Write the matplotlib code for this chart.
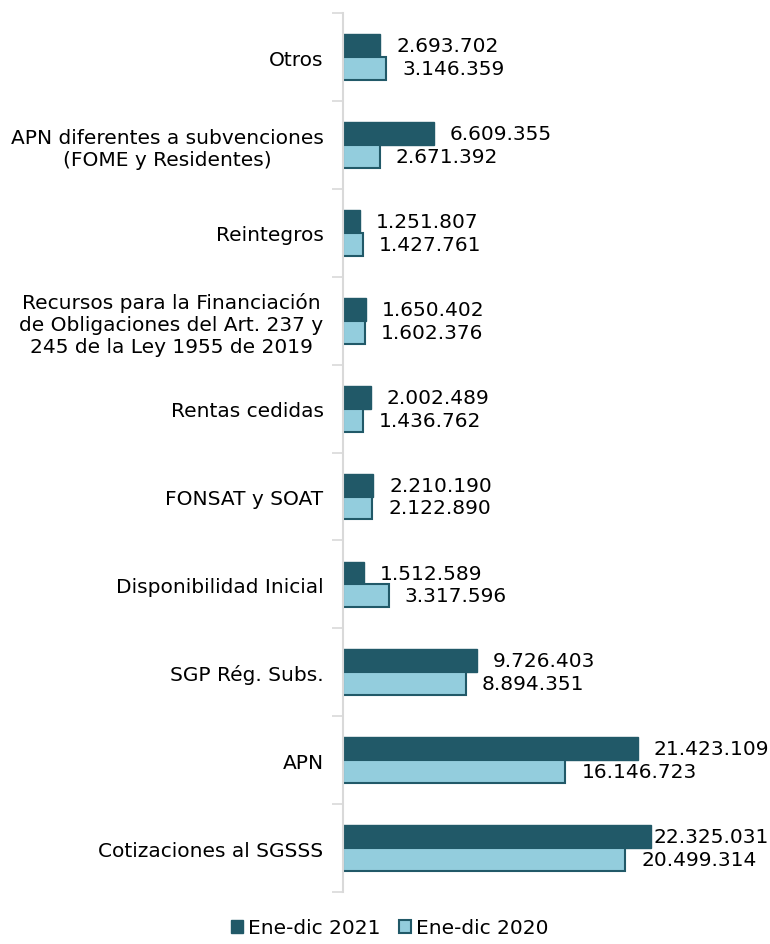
import numpy as np
import matplotlib
matplotlib.use("Agg")
import matplotlib.pyplot as plt
from matplotlib.ticker import FixedLocator

categories = [
    "Cotizaciones al SGSSS",
    "APN",
    "SGP Rég. Subs.",
    "Disponibilidad Inicial",
    "FONSAT y SOAT",
    "Rentas cedidas",
    "Recursos para la Financiación\nde Obligaciones del Art. 237 y\n245 de la Ley 1955 de 2019",
    "Reintegros",
    "APN diferentes a subvenciones\n(FOME y Residentes)",
    "Otros",
]
ene_dic_2021 = [22325031, 21423109, 9726403, 1512589, 2210190,
                2002489, 1650402, 1251807, 6609355, 2693702]
ene_dic_2020 = [20499314, 16146723, 8894351, 3317596, 2122890,
                1436762, 1602376, 1427761, 2671392, 3146359]

dark = "#215968"
light = "#93CDDD"
fs = 14.5

def fmt(v):
    return f"{v:,}".replace(",", ".")

fig = plt.figure(figsize=(7.7, 9.45), dpi=100)
ax = fig.add_axes([0.4455, 0.055, 0.5545, 0.93])

y = np.arange(len(categories))
h = 0.26
xmax = 31.0e6
ax.barh(y + h / 2, ene_dic_2021, height=h, color=dark, edgecolor=dark,
        linewidth=1, label="Ene-dic 2021")
ax.barh(y - h / 2, ene_dic_2020, height=h, color=light, edgecolor=dark,
        linewidth=1.5, label="Ene-dic 2020")

ax.set_xlim(0, xmax)
ax.set_ylim(-0.5, len(categories) - 0.5)

# value labels, pushed back inside the plot area when too long
fig.canvas.draw()
rend = fig.canvas.get_renderer()
inv = ax.transData.inverted()
for vals, off in ((ene_dic_2021, h / 2), (ene_dic_2020, -h / 2)):
    for yi, v in zip(y, vals):
        t = ax.annotate(fmt(v), (v, yi + off), xytext=(16, 0),
                        textcoords="offset pixels", va="center", ha="left",
                        fontsize=fs, color="black")
        bb = t.get_window_extent(rend)
        right = inv.transform((bb.x1, bb.y0))[0]
        if right > xmax * 0.997:
            t.remove()
            ax.annotate(fmt(v), (xmax * 0.997, yi + off), va="center",
                        ha="right", fontsize=fs, color="black")

ax.set_yticks(y)
ax.set_yticklabels(categories, fontsize=fs)
for lab in ax.get_yticklabels():
    lab.set_multialignment("center")
ax.tick_params(axis="y", which="major", length=0, pad=14)
ax.yaxis.set_minor_locator(FixedLocator(np.arange(-0.5, len(categories), 1)))
ax.tick_params(axis="y", which="minor", length=8, color="#d9d9d9", width=1.2)
ax.set_xticks([])
for s in ("top", "right", "bottom"):
    ax.spines[s].set_visible(False)
ax.spines["left"].set_color("#d9d9d9")
ax.spines["left"].set_linewidth(1.5)

fig.legend(loc="lower center", bbox_to_anchor=(0.506, -0.012), ncol=2,
           frameon=False, fontsize=fs, handlelength=0.6, handleheight=0.6,
           handletextpad=0.25, columnspacing=0.9)

fig.savefig("out.png", dpi=100)
